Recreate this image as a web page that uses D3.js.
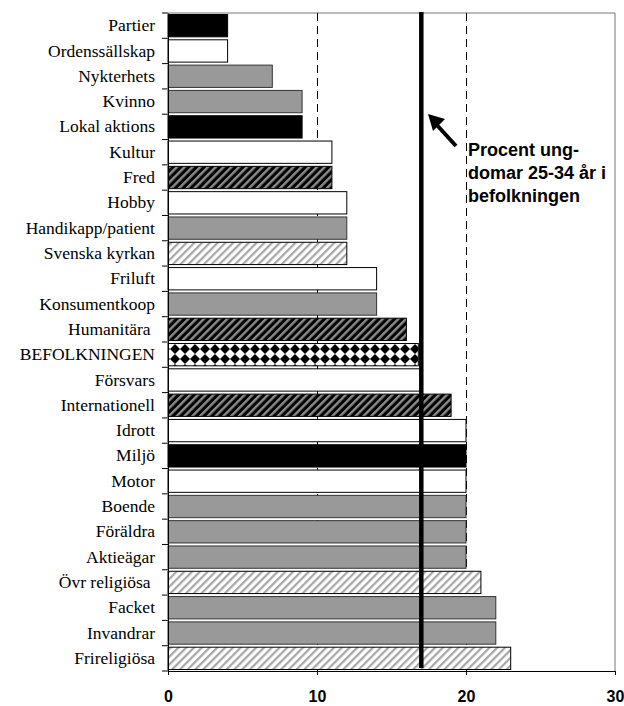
<!DOCTYPE html>
<html>
<head>
<meta charset="utf-8">
<script src="https://cdn.jsdelivr.net/npm/d3@7"></script>
<style>
  body { margin: 0; background: #fff; }
  svg { display: block; }
</style>
</head>
<body>
<script>
// Chart size
var svgWidth = 624;
var svgHeight = 706;

// plot area
var margin = { top: 13, right: 9, bottom: 35, left: 168 };
var plotRight = svgWidth - margin.right;
var plotBottom = svgHeight - margin.bottom;

// data
var categories = ["Partier", "Ordenssällskap", "Nykterhets", "Kvinno", "Lokal aktions",
  "Kultur", "Fred", "Hobby", "Handikapp/patient", "Svenska kyrkan", "Friluft",
  "Konsumentkoop", "Humanitära ", "BEFOLKNINGEN", "Försvars", "Internationell",
  "Idrott", "Miljö", "Motor", "Boende", "Föräldra", "Aktieägar", "Övr religiösa ",
  "Facket", "Invandrar", "Frireligiösa"];
var values = [4, 4, 7, 9, 9, 11, 11, 12, 12, 12, 14, 14, 16, 16.8, 17, 19,
  20, 20, 20, 20, 20, 20, 21, 22, 22, 23];
var fillTypes = ["black", "white", "gray", "gray", "black", "white", "darkStripe",
  "white", "gray", "lightStripe", "white", "gray", "darkStripe", "diamond",
  "white", "darkStripe", "white", "black", "white", "gray", "gray", "gray",
  "lightStripe", "gray", "gray", "lightStripe"];
var xTicks = [0, 10, 20, 30];
var gridTicks = [10, 20];
var refValue = 17;   // procent ungdomar 25-34 år i befolkningen
var noteLines = ["Procent ung-", "domar 25-34 år i", "befolkningen"];

var svg = d3.select("body").append("svg")
  .attr("width", svgWidth)
  .attr("height", svgHeight);

// patterns
var defs = svg.append("defs");

var dark = defs.append("pattern")
  .attr("id", "darkStripe")
  .attr("patternUnits", "userSpaceOnUse")
  .attr("width", 5.5).attr("height", 5.5)
  .attr("patternTransform", "rotate(45)");
dark.append("rect").attr("width", 5.5).attr("height", 5.5).attr("fill", "#000");
dark.append("rect").attr("width", 2.4).attr("height", 5.5).attr("fill", "#8c8c8c");

var light = defs.append("pattern")
  .attr("id", "lightStripe")
  .attr("patternUnits", "userSpaceOnUse")
  .attr("width", 5.5).attr("height", 5.5)
  .attr("patternTransform", "rotate(45)");
light.append("rect").attr("width", 5.5).attr("height", 5.5).attr("fill", "#fff");
light.append("rect").attr("width", 2.2).attr("height", 5.5).attr("fill", "#a6a6a6");

var diamond = defs.append("pattern")
  .attr("id", "diamond")
  .attr("patternUnits", "userSpaceOnUse")
  .attr("width", 10).attr("height", 10)
  .attr("y", 4);
diamond.append("rect").attr("width", 10).attr("height", 10).attr("fill", "#fff");
diamond.append("polygon").attr("points", "5,0 10,5 5,10 0,5").attr("fill", "#000");

function fillFor(t) {
  if (t === "black") return "#000";
  if (t === "white") return "#fff";
  if (t === "gray") return "#999";
  return "url(#" + t + ")";
}

// scales
var x = d3.scaleLinear().domain([0, 30]).range([margin.left, plotRight]);
var y = d3.scaleBand().domain(categories).range([margin.top, plotBottom]).padding(0);

// frame (top + right)
svg.append("path")
  .attr("d", `M${x(0)},${margin.top}H${x(30)}V${plotBottom}`)
  .attr("fill", "none")
  .attr("stroke", "#777")
  .attr("stroke-width", 1);

// dashed gridlines
svg.selectAll(".grid")
  .data(gridTicks)
  .enter()
  .append("line")
  .attr("class", "grid")
  .attr("x1", d => Math.round(x(d)) + 0.5)
  .attr("x2", d => Math.round(x(d)) + 0.5)
  .attr("y1", margin.top)
  .attr("y2", plotBottom)
  .attr("stroke", "#000")
  .attr("stroke-width", 1)
  .attr("stroke-dasharray", "8,5");

// bars
var rows = categories.map((c, i) => ({ cat: c, value: values[i], type: fillTypes[i] }));

svg.selectAll(".bar")
  .data(rows)
  .enter()
  .append("rect")
  .attr("class", "bar")
  .attr("x", x(0))
  .attr("y", d => y(d.cat) + 1.5)
  .attr("width", d => x(d.value) - x(0))
  .attr("height", y.bandwidth() - 3)
  .attr("fill", d => fillFor(d.type))
  .attr("stroke", d => d.type === "gray" ? "#333" : "#000")
  .attr("stroke-width", 1);

// y axis with ticks at the band edges
var yAxis = svg.append("g")
  .attr("transform", `translate(${x(0)},0)`)
  .call(d3.axisLeft(y).tickSize(0).tickPadding(13));
yAxis.select(".domain").attr("stroke", "#000");
yAxis.selectAll("text")
  .attr("font-family", "'Liberation Serif', 'Times New Roman', serif")
  .attr("font-size", "17.5px")
  .attr("fill", "#000")
  .style("white-space", "pre");

var edges = d3.range(categories.length + 1).map(i => margin.top + i * y.step());
svg.selectAll(".ytick")
  .data(edges)
  .enter()
  .append("line")
  .attr("class", "ytick")
  .attr("x1", x(0) - 6)
  .attr("x2", x(0))
  .attr("y1", d => d)
  .attr("y2", d => d)
  .attr("stroke", "#000");

// x axis
var xAxis = svg.append("g")
  .attr("transform", `translate(0,${plotBottom})`)
  .call(d3.axisBottom(x).tickValues(xTicks).tickSize(4).tickPadding(16).tickFormat(d3.format("d")));
xAxis.select(".domain").attr("stroke", "#000");
xAxis.selectAll("line").attr("stroke", "#000");
xAxis.selectAll("text")
  .attr("font-family", "'Liberation Sans', Arial, sans-serif")
  .attr("font-weight", "bold")
  .attr("font-size", "16px")
  .attr("fill", "#000");

// reference line for the population share
svg.append("line")
  .attr("x1", x(refValue))
  .attr("x2", x(refValue))
  .attr("y1", margin.top - 1)
  .attr("y2", plotBottom - 3)
  .attr("stroke", "#000")
  .attr("stroke-width", 4.5);

// arrow + note
svg.append("line")
  .attr("x1", 456).attr("y1", 146)
  .attr("x2", 436).attr("y2", 124)
  .attr("stroke", "#000")
  .attr("stroke-width", 4);
svg.append("polygon")
  .attr("points", "428,114 445,119 433,131")
  .attr("fill", "#000");

svg.append("text")
  .attr("x", 468)
  .attr("y", 156)
  .attr("font-family", "'Liberation Sans', Arial, sans-serif")
  .attr("font-weight", "bold")
  .attr("font-size", "18px")
  .selectAll("tspan")
  .data(noteLines)
  .enter()
  .append("tspan")
  .attr("x", 468)
  .attr("dy", (d, i) => i === 0 ? 0 : 23)
  .text(d => d);
</script>
</body>
</html>
